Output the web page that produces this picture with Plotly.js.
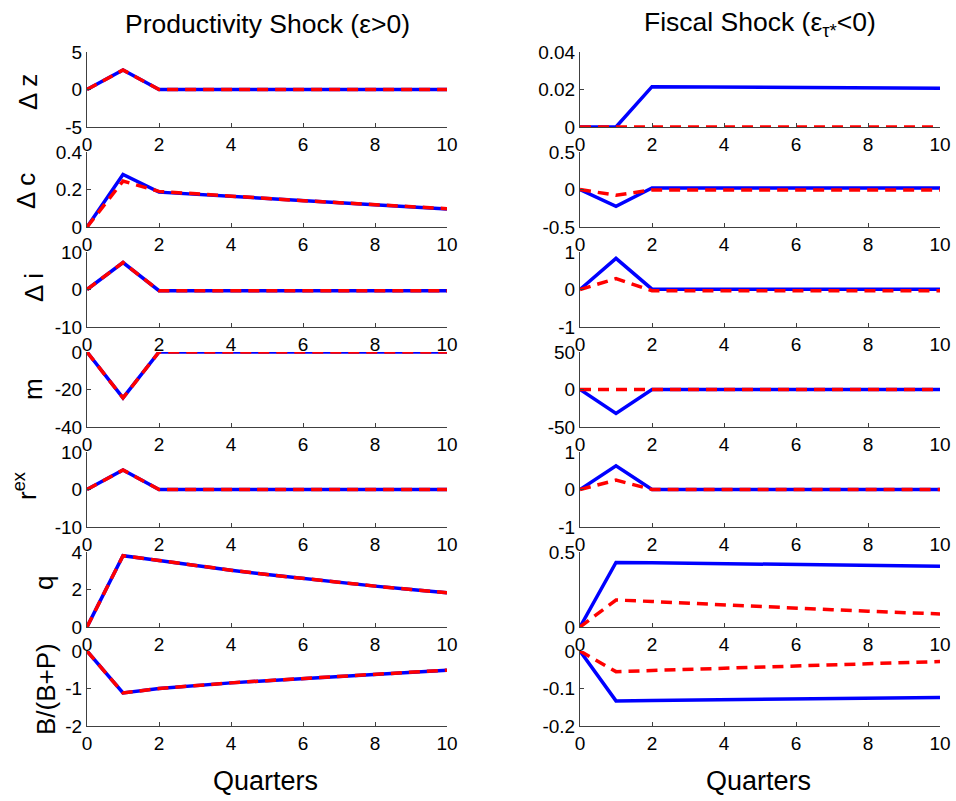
<!DOCTYPE html>
<html>
<head>
<meta charset="utf-8">
<script src="https://cdn.plot.ly/plotly-3.0.1.min.js"></script>
<style>html,body{margin:0;padding:0;background:#fff;}#chart{width:956px;height:801px;}</style>
</head>
<body>
<div id="chart"></div>
<script>
// ---------- data ----------
const quarters = [0,1,2,3,4,5,6,7,8,9,10];

// Productivity shock (left column)
const prodDzBlue  = [0, 2.6, 0, 0, 0, 0, 0, 0, 0, 0, 0];
const prodDzRed   = [0, 2.6, 0, 0, 0, 0, 0, 0, 0, 0, 0];
const prodDcBlue  = [0, 0.28, 0.186, 0.175, 0.163, 0.150, 0.138, 0.128, 0.118, 0.107, 0.096];
const prodDcRed   = [0, 0.245, 0.190, 0.177, 0.165, 0.152, 0.140, 0.130, 0.120, 0.109, 0.098];
const prodDiBlue  = [0, 7.2, -0.3, -0.3, -0.3, -0.3, -0.3, -0.3, -0.3, -0.3, -0.3];
const prodDiRed   = [0, 7.2, -0.3, -0.3, -0.3, -0.3, -0.3, -0.3, -0.3, -0.3, -0.3];
const prodMBlue   = [0, -24.5, 0, 0, 0, 0, 0, 0, 0, 0, 0];
const prodMRed    = [0, -24.5, 0, 0, 0, 0, 0, 0, 0, 0, 0];
const prodRexBlue = [0, 5.2, 0, 0, 0, 0, 0, 0, 0, 0, 0];
const prodRexRed  = [0, 5.2, 0, 0, 0, 0, 0, 0, 0, 0, 0];
const prodQBlue   = [0, 3.8, 3.55, 3.28, 3.03, 2.80, 2.58, 2.38, 2.18, 2.00, 1.83];
const prodQRed    = [0, 3.8, 3.55, 3.28, 3.03, 2.80, 2.58, 2.38, 2.18, 2.00, 1.83];
const prodBBlue   = [0, -1.12, -1.00, -0.92, -0.85, -0.79, -0.73, -0.67, -0.61, -0.56, -0.51];
const prodBRed    = [0, -1.12, -1.00, -0.92, -0.85, -0.79, -0.73, -0.67, -0.61, -0.56, -0.51];

// Fiscal shock (right column)
const fiscDzBlue  = [0, 0, 0.0215, 0.0214, 0.0213, 0.0212, 0.0211, 0.0210, 0.0209, 0.0208, 0.0207];
const fiscDzRed   = [0, 0, 0, 0, 0, 0, 0, 0, 0, 0, 0];
const fiscDcBlue  = [0, -0.225, 0.02, 0.02, 0.02, 0.02, 0.02, 0.02, 0.02, 0.02, 0.02];
const fiscDcRed   = [0, -0.077, -0.005, -0.005, -0.005, -0.005, -0.005, -0.005, -0.005, -0.005, -0.005];
const fiscDiBlue  = [0, 0.83, 0.01, 0.01, 0.01, 0.01, 0.01, 0.01, 0.01, 0.01, 0.01];
const fiscDiRed   = [0, 0.29, -0.03, -0.03, -0.03, -0.03, -0.03, -0.03, -0.03, -0.03, -0.03];
const fiscMBlue   = [0, -32, 0, 0, 0, 0, 0, 0, 0, 0, 0];
const fiscMRed    = [0, 0, 0, 0, 0, 0, 0, 0, 0, 0, 0];
const fiscRexBlue = [0, 0.63, 0, 0, 0, 0, 0, 0, 0, 0, 0];
const fiscRexRed  = [0, 0.25, 0, 0, 0, 0, 0, 0, 0, 0, 0];
const fiscQBlue   = [0, 0.43, 0.428, 0.425, 0.422, 0.420, 0.417, 0.414, 0.411, 0.408, 0.405];
const fiscQRed    = [0, 0.18, 0.170, 0.158, 0.146, 0.135, 0.125, 0.115, 0.105, 0.095, 0.087];
const fiscBBlue   = [0, -0.133, -0.132, -0.131, -0.130, -0.129, -0.128, -0.127, -0.126, -0.125, -0.124];
const fiscBRed    = [0, -0.055, -0.052, -0.049, -0.046, -0.043, -0.040, -0.037, -0.034, -0.031, -0.028];

// tick labels
const xTickVals = [0, 2, 4, 6, 8, 10];
const prodYTicks = [[-5,0,5],[0,0.2,0.4],[-10,0,10],[-40,-20,0],[-10,0,10],[0,2,4],[-2,-1,0]];
const fiscYTicks = [[0,0.02,0.04],[-0.5,0,0.5],[-1,0,1],[-50,0,50],[-1,0,1],[0,0.5],[-0.2,-0.1,0]];
const prodYRanges = [[-5,5],[0,0.4],[-10,10],[-40,0],[-10,10],[0,4],[-2,0]];
const fiscYRanges = [[0,0.04],[-0.5,0.5],[-1,1],[-50,50],[-1,1],[0,0.5],[-0.2,0]];
const rowLabels = ['Δ z','Δ c','Δ i','m','r<sup>ex</sup>','q','B/(B+P)'];
const titles = ['Productivity Shock (ε&gt;0)', 'Fiscal Shock (ε<sub>τ*</sub>&lt;0)'];
const xLabel = 'Quarters';

const prodBlue = [prodDzBlue, prodDcBlue, prodDiBlue, prodMBlue, prodRexBlue, prodQBlue, prodBBlue];
const prodRed  = [prodDzRed, prodDcRed, prodDiRed, prodMRed, prodRexRed, prodQRed, prodBRed];
const fiscBlue = [fiscDzBlue, fiscDcBlue, fiscDiBlue, fiscMBlue, fiscRexBlue, fiscQBlue, fiscBBlue];
const fiscRed  = [fiscDzRed, fiscDcRed, fiscDiRed, fiscMRed, fiscRexRed, fiscQRed, fiscBRed];

// ---------- layout geometry (pixels) ----------
const W = 956, H = 801;
const colX = [[87, 447], [580, 940]];
const rowTop = [52, 152, 252, 352, 452, 552, 651];
const rowH = 75;
const px = v => v / W;
const py = v => 1 - v / H;

const FONT = 'Liberation Sans, Arial, Helvetica, sans-serif';
const AXC = '#404040';

const traces = [];
const layout = {
  width: W, height: H,
  margin: {l: 0, r: 0, t: 0, b: 0},
  paper_bgcolor: '#fff', plot_bgcolor: '#fff',
  showlegend: false,
  font: {family: FONT, color: '#000', size: 19},
  annotations: []
};

function fmt(v) {
  return String(v);
}

for (let r = 0; r < 7; r++) {
  for (let c = 0; c < 2; c++) {
    const idx = r * 2 + c + 1;
    const xa = 'xaxis' + (idx === 1 ? '' : idx);
    const ya = 'yaxis' + (idx === 1 ? '' : idx);
    const xr = 'x' + (idx === 1 ? '' : idx);
    const yr = 'y' + (idx === 1 ? '' : idx);
    const blue = c === 0 ? prodBlue[r] : fiscBlue[r];
    const red = c === 0 ? prodRed[r] : fiscRed[r];
    const yt = c === 0 ? prodYTicks[r] : fiscYTicks[r];
    const yrng = c === 0 ? prodYRanges[r] : fiscYRanges[r];

    traces.push({x: quarters, y: blue, xaxis: xr, yaxis: yr, type: 'scatter', mode: 'lines',
      line: {color: '#0000ff', width: 3.5}, cliponaxis: false, hoverinfo: 'skip'});
    traces.push({x: quarters, y: red, xaxis: xr, yaxis: yr, type: 'scatter', mode: 'lines',
      line: {color: '#ff0000', width: 3.5, dash: '11px,7px'}, cliponaxis: false, hoverinfo: 'skip'});

    layout[xa] = {
      domain: [px(colX[c][0]), px(colX[c][1])],
      anchor: yr, range: [0, 10], tickvals: xTickVals, ticktext: xTickVals.map(fmt),
      showgrid: false, zeroline: false, showline: true, linecolor: AXC, linewidth: 1,
      ticks: 'inside', ticklen: 4, tickcolor: AXC, tickwidth: 1,
      tickfont: {family: FONT, size: 19, color: '#000'}, fixedrange: true
    };
    layout[ya] = {
      domain: [py(rowTop[r] + rowH), py(rowTop[r])],
      anchor: xr, range: yrng, tickvals: yt, ticktext: yt.map(fmt),
      showgrid: false, zeroline: false, showline: true, linecolor: AXC, linewidth: 1,
      ticks: 'inside', ticklen: 4, tickcolor: AXC, tickwidth: 1,
      tickfont: {family: FONT, size: 19, color: '#000'}, fixedrange: true
    };
  }
}

// row labels (left column)
const labelX = [28, 26, 34, 33, 25, 44, 46];
const labelY = [92, 191, 288, 389, 486, 583, 689];
for (let r = 0; r < 7; r++) {
  layout.annotations.push({
    text: rowLabels[r], xref: 'paper', yref: 'paper',
    x: px(labelX[r]), y: py(labelY[r]), xanchor: 'center', yanchor: 'middle',
    textangle: -90, showarrow: false, font: {family: FONT, size: 26, color: '#000'}
  });
}
// column titles
const titleX = [267, 760];
for (let c = 0; c < 2; c++) {
  layout.annotations.push({
    text: titles[c], xref: 'paper', yref: 'paper', x: px(titleX[c]), y: py(24),
    xanchor: 'center', yanchor: 'middle', showarrow: false,
    font: {family: FONT, size: 26.5, color: '#000'}
  });
  layout.annotations.push({
    text: xLabel, xref: 'paper', yref: 'paper', x: px([265, 758][c]), y: py(781),
    xanchor: 'center', yanchor: 'middle', showarrow: false,
    font: {family: FONT, size: 27, color: '#000'}
  });
}

Plotly.newPlot('chart', traces, layout, {staticPlot: true, displayModeBar: false});
</script>
</body>
</html>
